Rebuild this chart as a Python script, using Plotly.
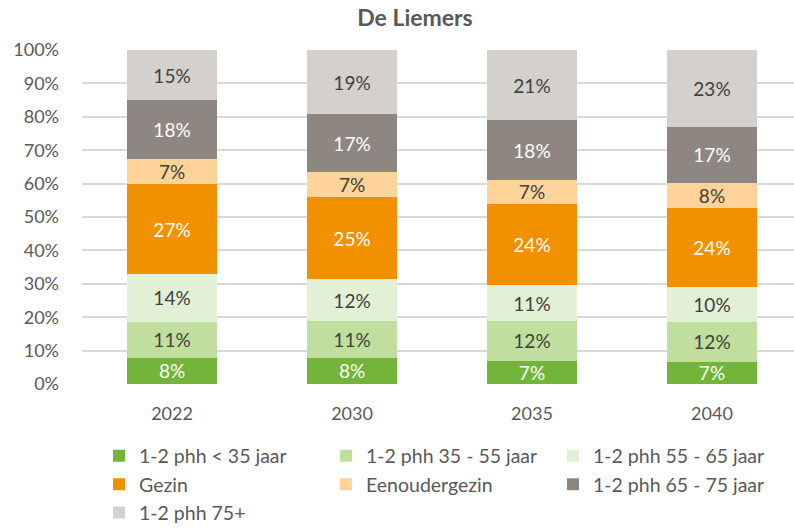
import plotly.graph_objects as go

years = ["2022", "2030", "2035", "2040"]
series_names = [
    "1-2 phh < 35 jaar",
    "1-2 phh 35 - 55 jaar",
    "1-2 phh 55 - 65 jaar",
    "Gezin",
    "Eenoudergezin",
    "1-2 phh 65 - 75 jaar",
    "1-2 phh 75+",
]
phh_lt35 = [7.8, 7.8, 7.0, 6.6]
phh_35_55 = [10.8, 11.1, 11.9, 12.1]
phh_55_65 = [14.3, 12.4, 10.7, 10.2]
gezin = [27.0, 24.7, 24.2, 23.7]
eenoudergezin = [7.4, 7.4, 7.4, 7.6]
phh_65_75 = [17.6, 17.4, 17.7, 16.8]
phh_75plus = [15.1, 19.2, 21.1, 23.0]

series_values = [phh_lt35, phh_35_55, phh_55_65, gezin, eenoudergezin, phh_65_75, phh_75plus]
colors = ["#72B53A", "#C0DF9E", "#E2F1D6", "#F29100", "#FFD399", "#8E8680", "#D3D0CE"]
text_colors = ["#FFFFFF", "#404040", "#404040", "#FFFFFF", "#404040", "#FFFFFF", "#404040"]

y_ticks = list(range(0, 101, 10))
y_tick_labels = [f"{t}%" for t in y_ticks]

FONT = "Lato"

fig = go.Figure()
for name, vals, col, tcol in zip(series_names, series_values, colors, text_colors):
    fig.add_trace(go.Bar(
        x=years, y=vals, name=name,
        marker=dict(color=col, line=dict(width=0)),
        width=0.5,
        text=[f"{v:.0f}%" for v in vals],
        textposition="inside",
        insidetextanchor="middle",
        textangle=0,
        constraintext="none",
        textfont=dict(family=FONT, size=19, color=tcol),
        hoverinfo="skip",
    ))

fig.update_layout(
    barmode="stack",
    width=794, height=528,
    margin=dict(l=82, r=0, t=50, b=143.7, autoexpand=False),
    paper_bgcolor="white", plot_bgcolor="white",
    title=dict(text="<b>De Liemers</b>", x=415/794, xanchor="center",
               y=1 - 18/528, yanchor="middle",
               font=dict(family=FONT, size=23, color="#595959")),
    font=dict(family=FONT, color="#595959"),
    xaxis=dict(type="category", range=[-0.5, 3.4556], showgrid=False,
               showline=False, zeroline=False,
               tickfont=dict(family=FONT, size=18, color="#595959"),
               ticklabelstandoff=17),
    yaxis=dict(range=[0, 100], tickvals=y_ticks, ticktext=y_tick_labels,
               showgrid=True, gridcolor="#D9D9D9", gridwidth=1.5,
               zeroline=False, showline=False,
               tickfont=dict(family=FONT, size=18, color="#595959"),
               ticklabelstandoff=22),
    legend=dict(orientation="h", x=17 / 712, xanchor="left",
                y=-0.1576, yanchor="top", entrywidth=182, entrywidthmode="pixels",
                font=dict(family=FONT, size=19.5, color="#595959"),
                traceorder="normal", itemwidth=30),
)

fig.write_html("out.html", config={"displayModeBar": False},
               post_script="document.body.style.margin='0';document.body.style.padding='0';")
